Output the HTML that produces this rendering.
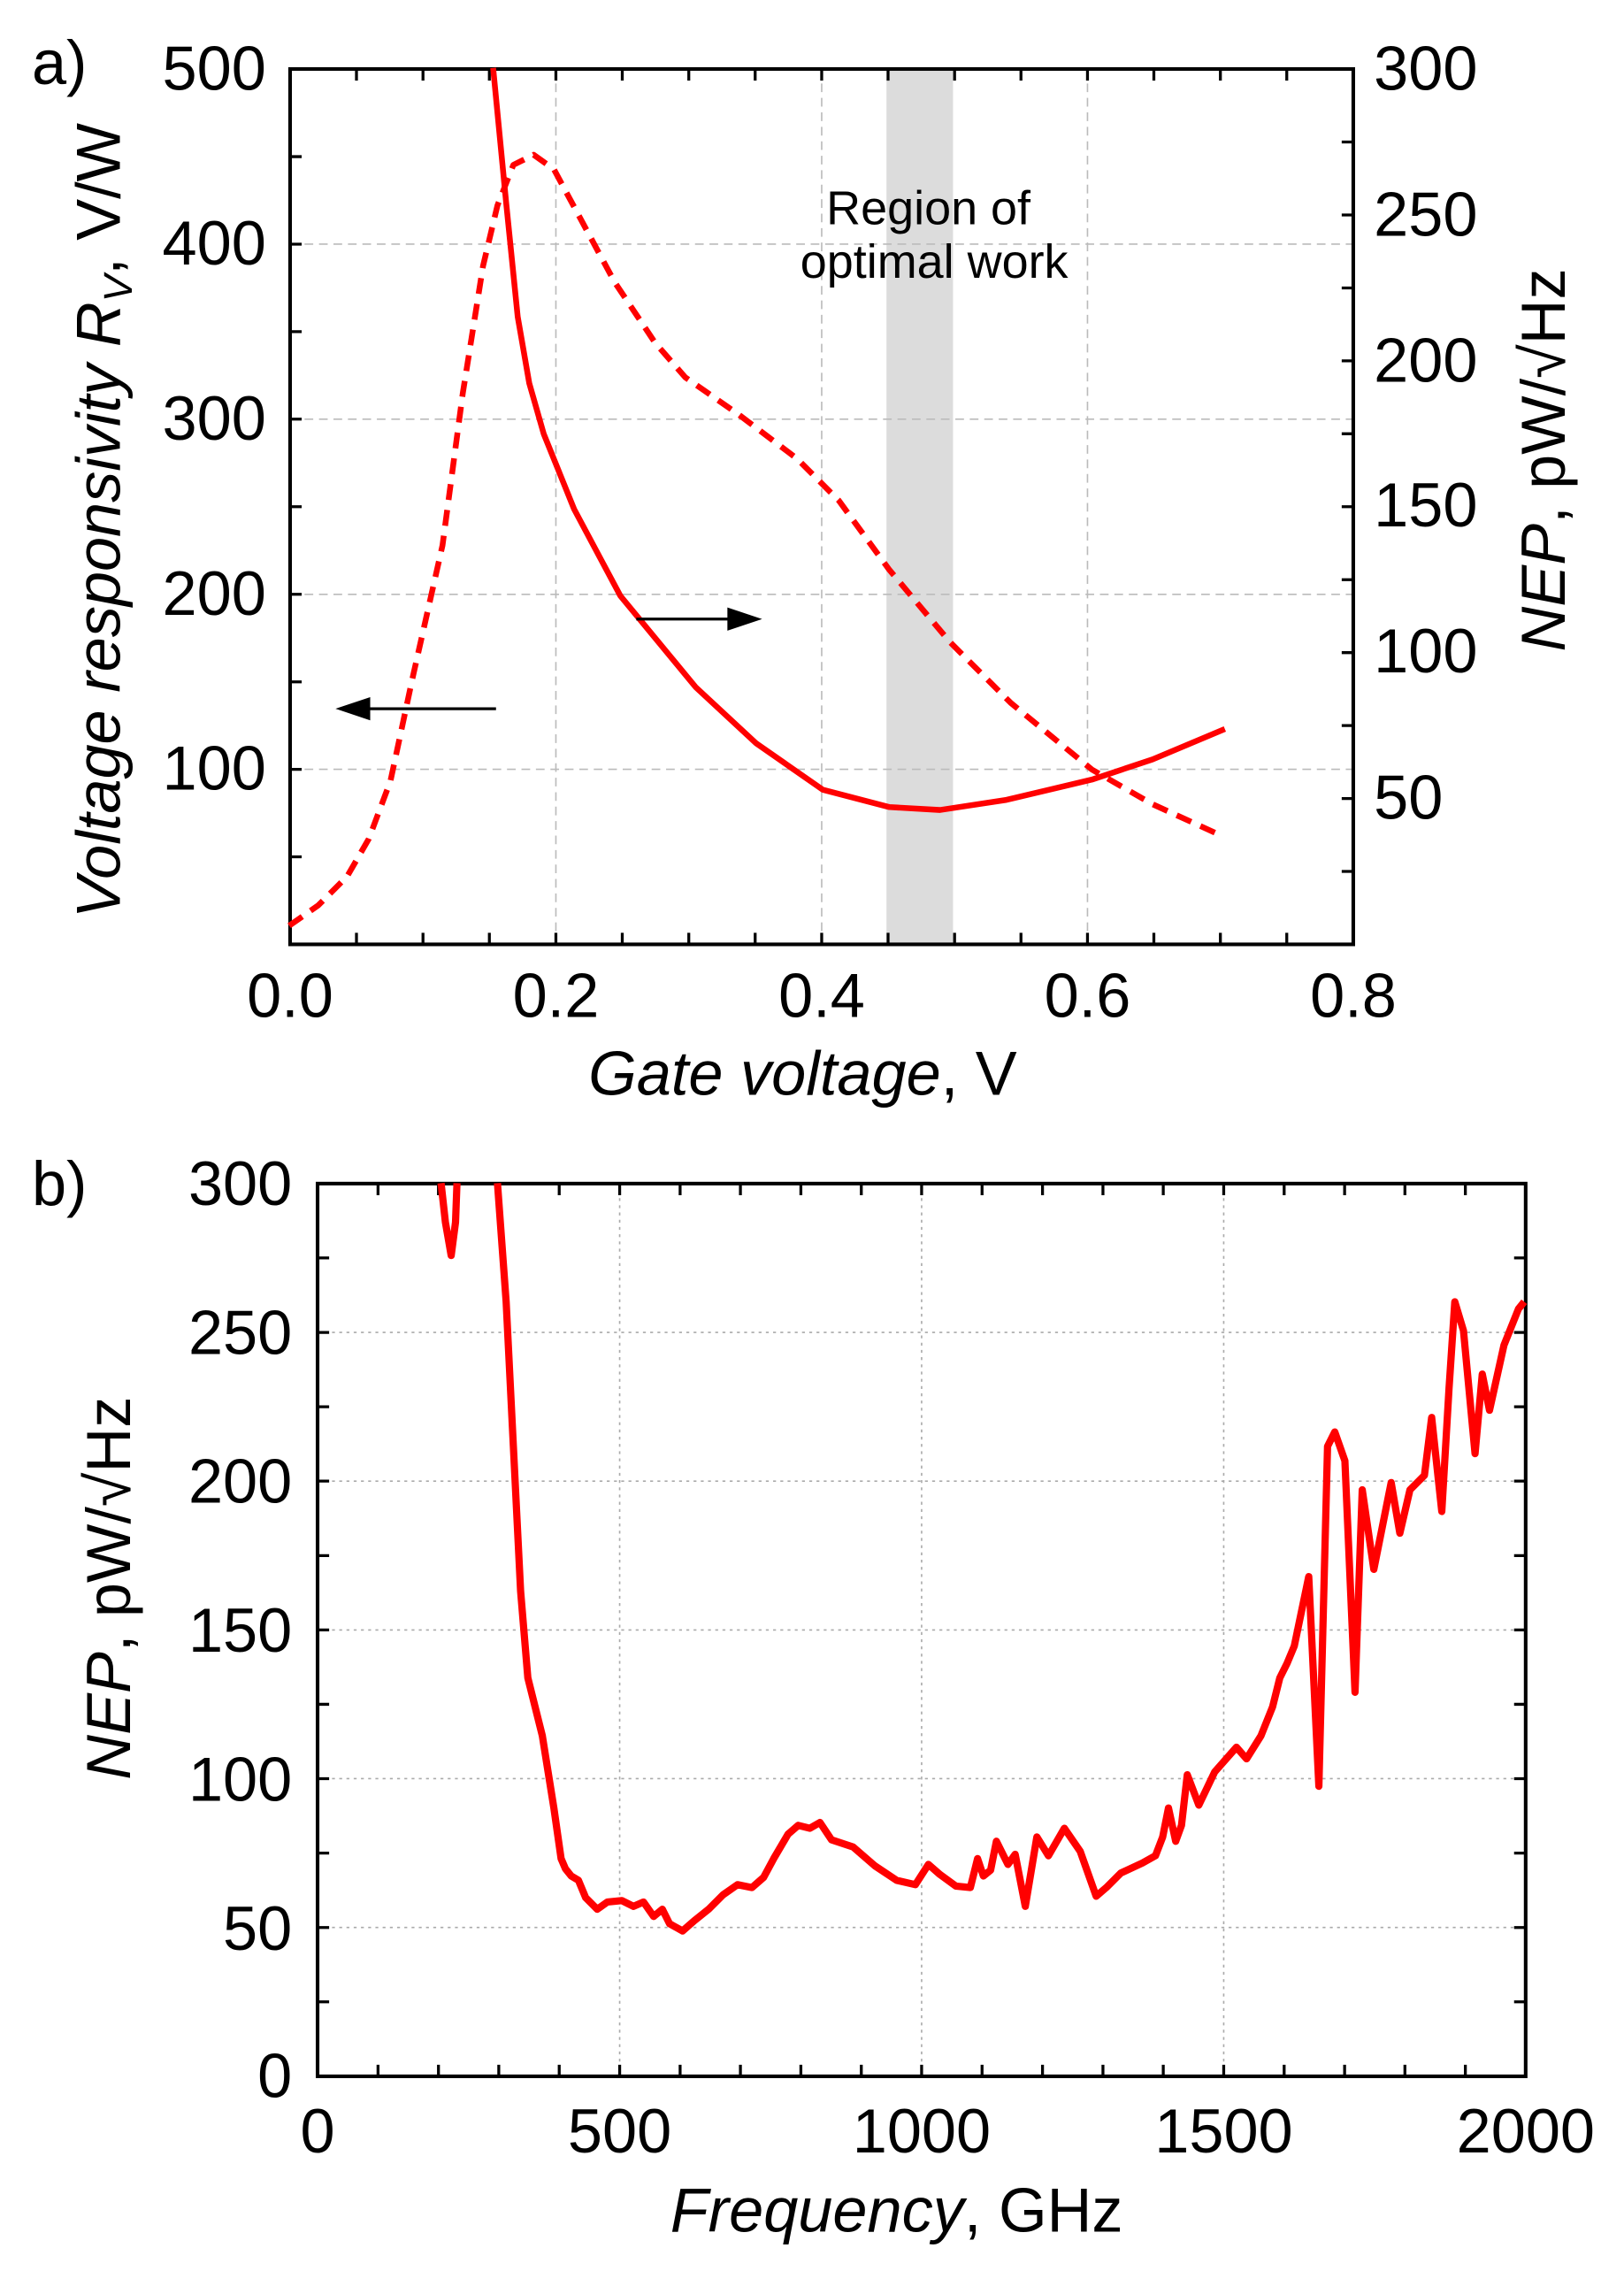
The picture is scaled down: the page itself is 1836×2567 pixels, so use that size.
<!DOCTYPE html>
<html><head><meta charset="utf-8"><style>
html,body{margin:0;padding:0;background:#fff;}
svg{display:block;}
text{font-family:"Liberation Sans",Arial,sans-serif;fill:#000;}
</style></head><body>
<svg width="1836" height="2567" viewBox="0 0 1123 1570.1" preserveAspectRatio="none" xmlns="http://www.w3.org/2000/svg">
<!-- ============ Panel a ============ -->
<rect x="613" y="47.7" width="46" height="605" fill="#dcdcdc"/>
<g stroke="#bbb" stroke-width="1" stroke-dasharray="6,4" fill="none">
<line x1="384.4" y1="47.7" x2="384.4" y2="652.9"/>
<line x1="568.2" y1="47.7" x2="568.2" y2="652.9"/>
<line x1="752" y1="47.7" x2="752" y2="652.9"/>
<line x1="200.6" y1="531.9" x2="935.8" y2="531.9"/>
<line x1="200.6" y1="410.9" x2="935.8" y2="410.9"/>
<line x1="200.6" y1="289.8" x2="935.8" y2="289.8"/>
<line x1="200.6" y1="168.8" x2="935.8" y2="168.8"/>
</g>
<g stroke="#000" stroke-width="2">
<path d="M246.5 652.9v-8M292.5 652.9v-8M338.4 652.9v-8M384.4 652.9v-8M430.3 652.9v-8M476.3 652.9v-8M522.2 652.9v-8M568.2 652.9v-8M614.1 652.9v-8M660.1 652.9v-8M706 652.9v-8M752 652.9v-8M797.9 652.9v-8M843.9 652.9v-8M889.8 652.9v-8"/>
<path d="M246.5 47.7v8M292.5 47.7v8M338.4 47.7v8M384.4 47.7v8M430.3 47.7v8M476.3 47.7v8M522.2 47.7v8M568.2 47.7v8M614.1 47.7v8M660.1 47.7v8M706 47.7v8M752 47.7v8M797.9 47.7v8M843.9 47.7v8M889.8 47.7v8"/>
<path d="M200.6 592.4h8M200.6 531.9h8M200.6 471.4h8M200.6 410.9h8M200.6 350.3h8M200.6 289.8h8M200.6 229.3h8M200.6 168.8h8M200.6 108.3h8"/>
<path d="M935.8 602.5h-8M935.8 552.1h-8M935.8 501.6h-8M935.8 451.2h-8M935.8 400.8h-8M935.8 350.3h-8M935.8 299.9h-8M935.8 249.5h-8M935.8 199.1h-8M935.8 148.6h-8M935.8 98.2h-8"/>
</g>
<rect x="200.6" y="47.7" width="735.2" height="605.2" fill="none" stroke="#000" stroke-width="2.5"/>
<!-- dashed Rv curve -->
<path d="M200,640 L220,626 L240,606 L255,580 L270,540 L285,470 L306,377 L320,272 L334,184 L344,142 L355,114 L369,107 L383,117 L404,156 L425,195 L453,237 L474,261 L510,286 L551,317 L580,346 L615,394 L657,444 L699,486 L755,532 L797,556 L843,577" fill="none" stroke="#f00" stroke-width="4" stroke-dasharray="11,7" stroke-linejoin="round"/>
<!-- solid NEP curve -->
<path d="M341,47 L350,140 L358,219 L366,265 L376,300 L397,352 L429,412 L481,475 L523,514 L569,546 L615,558 L650,560 L696,553 L755,539 L797,525 L847,504" fill="none" stroke="#f00" stroke-width="4" stroke-linejoin="round"/>
<!-- arrows -->
<line x1="343" y1="490" x2="250" y2="490" stroke="#000" stroke-width="2"/>
<polygon points="232,490 256,482 256,498" fill="#000"/>
<line x1="440" y1="428" x2="508" y2="428" stroke="#000" stroke-width="2"/>
<polygon points="527,428 503,420 503,436" fill="#000"/>
<text x="642" y="155" font-size="33" text-anchor="middle">Region of</text>
<text x="646" y="192" font-size="33" text-anchor="middle">optimal work</text>
<g font-size="43" text-anchor="end">
<text x="184" y="62">500</text>
<text x="184" y="183">400</text>
<text x="184" y="304">300</text>
<text x="184" y="425">200</text>
<text x="184" y="546">100</text>
</g>
<g font-size="43" text-anchor="start">
<text x="950" y="62">300</text>
<text x="950" y="163">250</text>
<text x="950" y="264">200</text>
<text x="950" y="364">150</text>
<text x="950" y="465">100</text>
<text x="950" y="566">50</text>
</g>
<g font-size="43" text-anchor="middle">
<text x="200.6" y="703">0.0</text>
<text x="384.4" y="703">0.2</text>
<text x="568.2" y="703">0.4</text>
<text x="752" y="703">0.6</text>
<text x="935.8" y="703">0.8</text>
</g>
<text x="555" y="757" font-size="43" text-anchor="middle"><tspan font-style="italic">Gate voltage</tspan>, V</text>
<text transform="translate(83,360) rotate(-90)" font-size="43" text-anchor="middle"><tspan font-style="italic">Voltage responsivity R</tspan><tspan font-size="28" dy="8" font-style="italic">V</tspan><tspan dy="-8">, V/W</tspan></text>
<text transform="translate(1082,318) rotate(-90)" font-size="43" text-anchor="middle"><tspan font-style="italic">NEP</tspan>, pW/√Hz</text>
<text x="22" y="58" font-size="43">a)</text>

<!-- ============ Panel b ============ -->
<g stroke="#aaa" stroke-width="1" stroke-dasharray="2,3" fill="none">
<line x1="428.5" y1="818.3" x2="428.5" y2="1435.5"/>
<line x1="637.3" y1="818.3" x2="637.3" y2="1435.5"/>
<line x1="846.2" y1="818.3" x2="846.2" y2="1435.5"/>
<line x1="219.6" y1="1332.6" x2="1055" y2="1332.6"/>
<line x1="219.6" y1="1229.7" x2="1055" y2="1229.7"/>
<line x1="219.6" y1="1126.9" x2="1055" y2="1126.9"/>
<line x1="219.6" y1="1024" x2="1055" y2="1024"/>
<line x1="219.6" y1="921.2" x2="1055" y2="921.2"/>
</g>
<g stroke="#000" stroke-width="2">
<path d="M261.4 1435.5v-8M303.2 1435.5v-8M344.9 1435.5v-8M386.7 1435.5v-8M428.5 1435.5v-8M470.3 1435.5v-8M512 1435.5v-8M553.8 1435.5v-8M595.6 1435.5v-8M637.3 1435.5v-8M679.1 1435.5v-8M720.9 1435.5v-8M762.7 1435.5v-8M804.4 1435.5v-8M846.2 1435.5v-8M888 1435.5v-8M929.8 1435.5v-8M971.5 1435.5v-8M1013.3 1435.5v-8"/>
<path d="M261.4 818.3v8M303.2 818.3v8M344.9 818.3v8M386.7 818.3v8M428.5 818.3v8M470.3 818.3v8M512 818.3v8M553.8 818.3v8M595.6 818.3v8M637.3 818.3v8M679.1 818.3v8M720.9 818.3v8M762.7 818.3v8M804.4 818.3v8M846.2 818.3v8M888 818.3v8M929.8 818.3v8M971.5 818.3v8M1013.3 818.3v8"/>
<path d="M219.6 1384h8M219.6 1332.6h8M219.6 1281.2h8M219.6 1229.7h8M219.6 1178.3h8M219.6 1126.9h8M219.6 1075.5h8M219.6 1024h8M219.6 972.6h8M219.6 921.2h8M219.6 869.7h8"/>
<path d="M1055 1384h-8M1055 1332.6h-8M1055 1281.2h-8M1055 1229.7h-8M1055 1178.3h-8M1055 1126.9h-8M1055 1075.5h-8M1055 1024h-8M1055 972.6h-8M1055 921.2h-8M1055 869.7h-8"/>
</g>
<rect x="219.6" y="818.3" width="835.4" height="617.2" fill="none" stroke="#000" stroke-width="2.5"/>
<path d="M305,818 L308,845 L312,868 L315,845 L316,818 M344,818 L350,900 L355,1000 L360,1100 L365,1160 L375,1200 L383,1250 L388,1285 L391,1292 L395,1297 L400,1300 L405,1312 L413,1320 L420,1315 L430,1314 L438,1318 L445,1315 L452,1325 L458,1320 L463,1330 L472,1335 L480,1328 L490,1320 L500,1310 L510,1303 L520,1305 L528,1298 L535,1285 L545,1268 L552,1262 L560,1264 L567,1260 L575,1272 L590,1277 L605,1290 L620,1300 L633,1303 L642,1289 L650,1296 L661,1304 L671,1305 L676,1285 L680,1297 L685,1293 L689,1273 L697,1289 L702,1282 L709,1318 L717,1270 L725,1283 L736,1264 L747,1280 L758,1311 L765,1305 L775,1295 L790,1288 L799,1283 L804,1270 L808,1250 L813,1273 L817,1262 L821,1227 L829,1248 L840,1225 L855,1208 L862,1216 L872,1200 L880,1180 L885,1160 L890,1150 L895,1138 L905,1090 L912,1235 L918,1000 L923,990 L930,1010 L937,1170 L942,1030 L950,1085 L957,1050 L962,1025 L968,1060 L975,1030 L985,1020 L990,980 L997,1045 L1002,960 L1006,900 L1012,920 L1020,1005 L1025,950 L1030,975 L1040,930 L1050,905 L1054,900" fill="none" stroke="#f00" stroke-width="5" stroke-linejoin="round"/>
<g font-size="43" text-anchor="end">
<text x="202" y="833">300</text>
<text x="202" y="936">250</text>
<text x="202" y="1039">200</text>
<text x="202" y="1142">150</text>
<text x="202" y="1245">100</text>
<text x="202" y="1348">50</text>
<text x="202" y="1450">0</text>
</g>
<g font-size="43" text-anchor="middle">
<text x="219.6" y="1488">0</text>
<text x="428.5" y="1488">500</text>
<text x="637.3" y="1488">1000</text>
<text x="846.2" y="1488">1500</text>
<text x="1055" y="1488">2000</text>
</g>
<text x="620" y="1543" font-size="43" text-anchor="middle"><tspan font-style="italic">Frequency</tspan>, GHz</text>
<text transform="translate(90,1098) rotate(-90)" font-size="43" text-anchor="middle"><tspan font-style="italic">NEP</tspan>, pW/√Hz</text>
<text x="22" y="833" font-size="43">b)</text>
</svg>
</body></html>
